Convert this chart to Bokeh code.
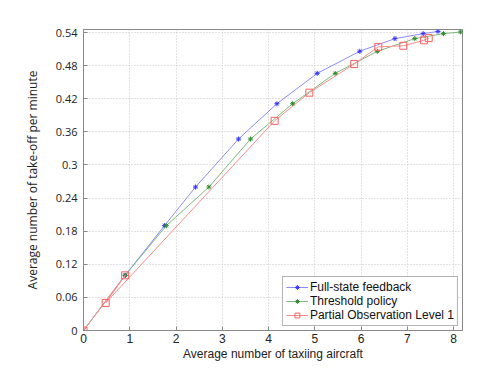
from bokeh.plotting import figure
from bokeh.models import FixedTicker, Range1d, Legend, LegendItem
from bokeh.embed import file_html
from bokeh.resources import INLINE

# Data
full_x = [0, 0.9, 1.75, 2.42, 3.35, 4.18, 5.05, 5.97, 6.73, 7.34, 7.66]
full_y = [0, 0.10, 0.19, 0.26, 0.347, 0.411, 0.466, 0.506, 0.529, 0.538, 0.542]

thr_x = [0, 0.9, 1.79, 2.71, 3.61, 4.52, 5.44, 6.35, 7.16, 7.78, 8.15]
thr_y = [0, 0.10, 0.19, 0.26, 0.347, 0.411, 0.466, 0.506, 0.529, 0.538, 0.541]

po_x = [0, 0.9, 0.48, 4.13, 4.88, 5.85, 6.37, 6.91, 7.36, 7.46]
po_y = [0, 0.10, 0.05, 0.380, 0.431, 0.483, 0.514, 0.516, 0.526, 0.530]

x_ticks = [0, 1, 2, 3, 4, 5, 6, 7, 8]
y_ticks = [0, 0.06, 0.12, 0.18, 0.24, 0.30, 0.36, 0.42, 0.48, 0.54]
y_tick_labels = ["0", "0.06", "0.12", "0.18", "0.24", "0.3", "0.36", "0.42", "0.48", "0.54"]

labels = ["Full-state feedback", "Threshold policy", "Partial Observation Level 1"]

p = figure(width=480, height=374, output_backend="svg", toolbar_location=None,
           x_range=Range1d(0, 8.19), y_range=Range1d(0, 0.5455),
           min_border_left=83, min_border_right=18, min_border_top=29, min_border_bottom=44)
p.background_fill_color = "white"
p.border_fill_color = "white"
p.outline_line_color = "#888888"
p.outline_line_width = 1

# grid
for g in (p.xgrid, p.ygrid):
    g.grid_line_color = "#c4c4c4"
    g.grid_line_dash = "1 2"
    g.grid_line_width = 1
p.xgrid.ticker = FixedTicker(ticks=x_ticks)
p.ygrid.ticker = FixedTicker(ticks=y_ticks)

# axes
p.xaxis.ticker = FixedTicker(ticks=x_ticks)
p.yaxis.ticker = FixedTicker(ticks=y_ticks)
p.yaxis.major_label_overrides = {t: l for t, l in zip(y_ticks, y_tick_labels)}
for ax in (p.xaxis[0], p.yaxis[0]):
    ax.axis_line_color = "#888888"
    ax.major_tick_line_color = "#888888"
    ax.major_tick_in = 4
    ax.major_tick_out = 0
    ax.minor_tick_line_color = None
    ax.major_label_text_color = "#222222"
    ax.axis_label_text_color = "#222222"
    ax.axis_label_text_font_style = "normal"

p.xaxis.axis_label = "Average number of taxiing aircraft"
p.xaxis.axis_label_text_font = "Liberation Sans"
p.xaxis.axis_label_text_font_size = "12px"
p.xaxis.major_label_text_font = "Liberation Sans"
p.xaxis.major_label_text_font_size = "12px"
p.xaxis.major_label_standoff = 3
p.xaxis.axis_label_standoff = 1

p.yaxis.axis_label = "Average number of take-off per minute"
p.yaxis.axis_label_text_font = "Open Sans"
p.yaxis.axis_label_text_font_size = "12px"
p.yaxis.major_label_text_font = "Open Sans"
p.yaxis.major_label_text_font_size = "11px"
p.yaxis.major_label_standoff = 6
p.yaxis.axis_label_standoff = 12

# series
l1 = p.line(full_x, full_y, line_color="#8c8cff", line_width=1)
m1 = p.scatter(full_x, full_y, marker="asterisk", size=5, line_color="#3535ff", line_width=1)
l2 = p.line(thr_x, thr_y, line_color="#7fb87f", line_width=1)
m2 = p.scatter(thr_x, thr_y, marker="asterisk", size=5, line_color="#2e8b2e", line_width=1)
l3 = p.line(po_x, po_y, line_color="#ff8c8c", line_width=1)
m3 = p.scatter(po_x, po_y, marker="square", size=7, line_color="#ff6060", fill_color=None, line_width=1)

legend = Legend(items=[
    LegendItem(label=labels[0], renderers=[l1, m1]),
    LegendItem(label=labels[1], renderers=[l2, m2]),
    LegendItem(label=labels[2], renderers=[l3, m3]),
], location="bottom_right")
legend.label_text_font = "Liberation Sans"
legend.label_text_font_size = "12px"
legend.label_text_color = "#111111"
legend.border_line_color = "#666666"
legend.background_fill_color = "white"
legend.background_fill_alpha = 1
legend.glyph_width = 22
legend.glyph_height = 12
legend.label_height = 12
legend.spacing = 0
legend.padding = 3
legend.margin = 4
legend.label_standoff = 2
p.add_layout(legend)

open("out.html", "w").write(file_html(p, INLINE))
